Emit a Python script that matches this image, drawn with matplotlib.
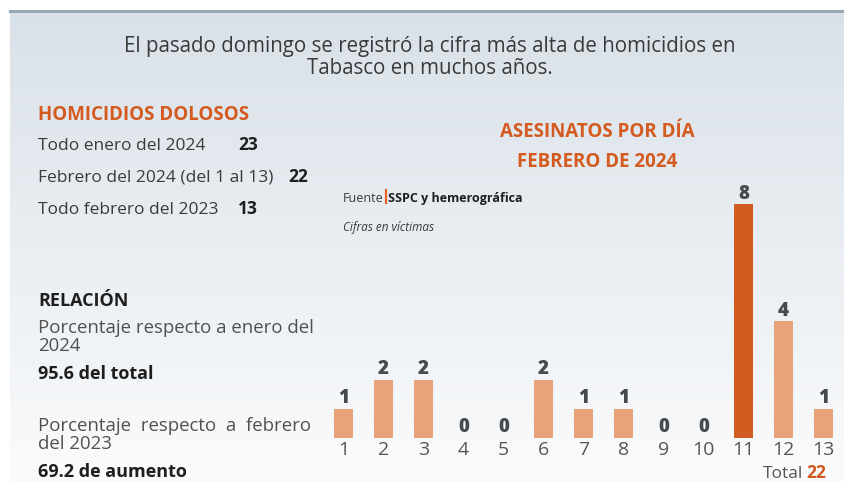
import matplotlib
matplotlib.use("Agg")

import numpy as np
import matplotlib.pyplot as plt
from matplotlib import font_manager as fm

# ── Data ──────────────────────────────────────────────────────────────────────
dias = ["1", "2", "3", "4", "5", "6", "7", "8", "9", "10", "11", "12", "13"]
asesinatos = [1, 2, 2, 0, 0, 2, 1, 1, 0, 0, 8, 4, 1]
dia_destacado = "11"
total_febrero = 22

resumen_labels = ["Todo enero del 2024", "Febrero del 2024 (del 1 al 13)", "Todo febrero del 2023"]
resumen_valores = ["23", "22", "13"]

# ── Design tokens ─────────────────────────────────────────────────────────────
W, H = 844, 482
COLOR_ORANGE = "#d45a1f"
COLOR_BAR = "#e8a37a"
COLOR_BAR_HI = "#d35a21"
COLOR_TEXT = "#3a3a3a"
COLOR_LIGHT = "#505050"
COLOR_VALUE = "#474a4d"


def _pick(names):
    for n in names:
        try:
            fm.findfont(fm.FontProperties(family=n), fallback_to_default=False)
            return n
        except Exception:
            pass
    return "DejaVu Sans"


FONT = _pick(["Open Sans", "Noto Sans", "DejaVu Sans"])
plt.rcParams["font.family"] = [FONT, "DejaVu Sans"]


def px(x, y):
    """Pixel coords (from top-left) -> figure fraction."""
    return x / W, 1 - y / H


fig = plt.figure(figsize=(W / 100, H / 100), dpi=100, facecolor="white")

# background panel with vertical gradient
bg = fig.add_axes([10 / W, 0, 1 - 10 / W, 1 - 12 / H])
grad = np.linspace(0, 1, 256).reshape(-1, 1)
top_c = np.array([0xd9, 0xe1, 0xe8]) / 255
bot_c = np.array([0xfa, 0xfb, 0xfc]) / 255
img = top_c + (bot_c - top_c) * grad[..., None]
bg.imshow(img, aspect="auto", extent=[0, 1, 0, 1], origin="upper")
bg.set_axis_off()
fig.add_artist(plt.Line2D([10 / W, 1], [1 - 11 / H] * 2, color="#98a9b4",
                          linewidth=2.2, transform=fig.transFigure))

# header
fig.text(*px(430, 52), "El pasado domingo se registró la cifra más alta de homicidios en",
         ha="center", va="baseline", fontsize=14.8, color=COLOR_TEXT)
fig.text(*px(430, 74), "Tabasco en muchos años.",
         ha="center", va="baseline", fontsize=14.8, color=COLOR_TEXT)

# left column
fig.text(*px(38, 120), "HOMICIDIOS DOLOSOS", ha="left", va="baseline",
         fontsize=13.5, fontweight="bold", color=COLOR_ORANGE)
val_x = [238, 288, 238]
for i, (lab, val) in enumerate(zip(resumen_labels, resumen_valores)):
    yb = 150 + i * 32
    fig.text(*px(38, yb), lab, ha="left", va="baseline", fontsize=12.5, color=COLOR_TEXT)
    fig.text(*px(val_x[i], yb), val, ha="left", va="baseline", fontsize=12.5,
             fontweight="bold", color="#1e1e1e")

fig.text(*px(38, 306), "RELACIÓN", ha="left", va="baseline", fontsize=13,
         fontweight="bold", color="#1e1e1e")
fig.text(*px(38, 333), "Porcentaje respecto a enero del", ha="left", va="baseline",
         fontsize=13.4, color=COLOR_LIGHT)
fig.text(*px(38, 351), "2024", ha="left", va="baseline", fontsize=13.4, color=COLOR_LIGHT)
fig.text(*px(38, 379), "95.6 del total", ha="left", va="baseline", fontsize=13,
         fontweight="bold", color="#1e1e1e")
fig.text(*px(38, 431), "Porcentaje  respecto  a  febrero", ha="left", va="baseline",
         fontsize=13.4, color=COLOR_LIGHT)
fig.text(*px(38, 449), "del 2023", ha="left", va="baseline", fontsize=13.4, color=COLOR_LIGHT)
fig.text(*px(38, 477), "69.2 de aumento", ha="left", va="baseline", fontsize=13,
         fontweight="bold", color="#1e1e1e")

# chart titles
fig.text(*px(597, 137), "ASESINATOS POR DÍA", ha="center", va="baseline",
         fontsize=13.5, fontweight="bold", color=COLOR_ORANGE)
fig.text(*px(597, 167), "FEBRERO DE 2024", ha="center", va="baseline",
         fontsize=13.5, fontweight="bold", color=COLOR_ORANGE)

# source
fig.text(*px(343, 202), "Fuente", ha="left", va="baseline", fontsize=9, color=COLOR_TEXT)
fig.add_artist(plt.Line2D([386 / W] * 2, [1 - 203 / H, 1 - 190 / H], color="#e8632a",
                          linewidth=1.6, transform=fig.transFigure))
fig.text(*px(388, 202), "SSPC y hemerográfica", ha="left", va="baseline", fontsize=9,
         fontweight="bold", color="#1e1e1e")
fig.text(*px(343, 231), "Cifras en víctimas", ha="left", va="baseline", fontsize=8.5,
         style="italic", color=COLOR_TEXT)

# bar chart
unit = 29.2
ymax = 8
ax = fig.add_axes([323.5 / W, 44 / H, 520 / W, unit * ymax / H])
ax.patch.set_visible(False)
x = np.arange(1, len(dias) + 1)
colors = [COLOR_BAR_HI if d == dia_destacado else COLOR_BAR for d in dias]
bars = ax.bar(x, asesinatos, width=0.475, color=colors, zorder=2)
for b, v in zip(bars, asesinatos):
    ax.annotate(str(v), (b.get_x() + b.get_width() / 2, v), xytext=(0, 0.5),
                textcoords="offset points", ha="center", va="bottom",
                fontsize=13.5, fontweight="heavy", color=COLOR_VALUE, annotation_clip=False)
ax.set_xlim(0.5, 13.5)
ax.set_ylim(0, ymax)
ax.set_xticks(x)
ax.set_xticklabels(dias, fontsize=14, color="#555555")
ax.tick_params(axis="x", length=0, pad=2)
ax.set_yticks([])
for s in ax.spines.values():
    s.set_visible(False)

fig.text(*px(803, 478), "Total", ha="right", va="baseline", fontsize=12.5, color="#555555")
fig.text(*px(806, 478), str(total_febrero), ha="left", va="baseline", fontsize=12.5,
         fontweight="bold", color=COLOR_ORANGE)

fig.savefig("out.png", dpi=100, facecolor="white")
